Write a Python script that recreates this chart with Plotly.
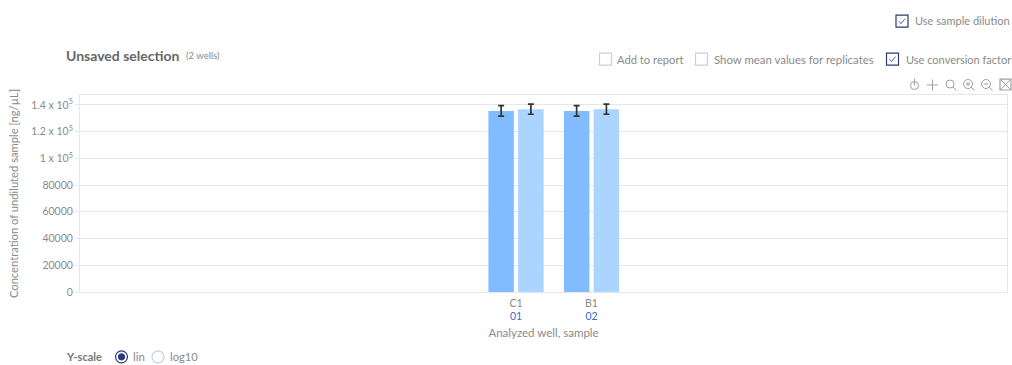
import plotly.graph_objects as go

categories = ["C1", "B1"]
samples = ["01", "02"]
series_a = [135500, 135500]
series_b = [136800, 136800]
err_a = [3900, 3900]
err_b = [3800, 3800]
y_ticks = [0, 20000, 40000, 60000, 80000, 100000, 120000, 140000]
y_labels = ["0", "20000", "40000", "60000", "80000", "1 x 10<sup>5</sup>", "1.2 x 10<sup>5</sup>", "1.4 x 10<sup>5</sup>"]
x_labels = [f'{c}<br><span style="color:#3a6cc8">{s}</span>' for c, s in zip(categories, samples)]

W, H = 1012, 365
L, R, T, B = 80, 1007, 95, 292.5
FONT = "Lato"
GREY = "#8a8a8a"
GRID = "#e6e6f2"
NAVY = "#2b3a78"
PALE = "#c3cfe8"


def fx(px):
    return (px - L) / (R - L)


def fy(py):
    return (B - py) / (B - T)


def text(px, py, s, size=11.5, color=GREY, anchor="left"):
    return dict(text=s, x=fx(px), y=fy(py), xref="paper", yref="paper", xanchor=anchor, yanchor="middle",
                showarrow=False, font=dict(size=size, color=color, family=FONT))


def box(x0, y0, size, color):
    return dict(type="rect", xref="paper", yref="paper", x0=fx(x0), x1=fx(x0 + size), y0=fy(y0), y1=fy(y0 + size),
                line=dict(color=color, width=1.2))


def line(x0, y0, x1, y1, color="#a0a0a0", width=1):
    return dict(type="line", xref="paper", yref="paper", x0=fx(x0), x1=fx(x1), y0=fy(y0), y1=fy(y1),
                line=dict(color=color, width=width))


def circ(cx, cy, r, color="#a0a0a0", width=1, fill=None):
    d = dict(type="circle", xref="paper", yref="paper", x0=fx(cx - r), x1=fx(cx + r), y0=fy(cy + r), y1=fy(cy - r),
             line=dict(color=color, width=width))
    if fill:
        d["fillcolor"] = fill
    return d


def check(x0, y0):
    return [line(x0 + 3, y0 + 6, x0 + 5, y0 + 8.5, NAVY, 0.8), line(x0 + 5, y0 + 8.5, x0 + 9, y0 + 3.5, NAVY, 0.8)]


shapes = []
shapes += [box(896, 15, 12, NAVY)] + check(896, 15)
shapes += [box(599.5, 53, 12, PALE), box(695.5, 53, 12, PALE), box(886.5, 53, 12, NAVY)] + check(886.5, 53)
# toolbar icons
shapes += [circ(914.5, 85.5, 4), line(914.5, 79, 914.5, 85.5)]
shapes += [line(927, 85, 938, 85), line(932.5, 79.5, 932.5, 90.5)]
shapes += [circ(950, 84, 4), line(953, 87, 956.5, 90.5)]
shapes += [circ(968, 84, 4.5), line(971, 87, 974.5, 90.5), line(966, 84, 970, 84), line(968, 82, 968, 86)]
shapes += [circ(986, 84, 4.5), line(989, 87, 992.5, 90.5), line(984, 84, 988, 84)]
shapes += [box(1000, 79, 11, "#a0a0a0"), line(1000, 79, 1011, 90), line(1011, 79, 1000, 90)]
# radios
shapes += [circ(121.5, 357.5, 6, NAVY, 1.2), circ(121.5, 357.5, 3.2, NAVY, 1, NAVY), circ(158, 357.5, 6, PALE, 1.2)]

annotations = [
    text(64, 55, "<b>Unsaved selection</b>", size=14, color="#666666"),
    text(184, 55, "(2 wells)", size=9.5),
    text(913, 20.5, "Use sample dilution", size=11),
    text(615, 59, "Add to report", size=11.2),
    text(711.5, 59, "Show mean values for replicates", size=11.4),
    text(903.5, 59, "Use conversion factor", size=11),
    text(64, 357.5, "<b>Y-scale</b>", color="#777777", size=11),
    text(131, 357.5, "lin"),
    text(168, 357.5, "log10", size=11.2),
]

fig = go.Figure()
for vals, errs, colr in ((series_a, err_a, "#80bcff"), (series_b, err_b, "#abd4ff")):
    fig.add_trace(go.Bar(
        x=[0, 1], y=vals, marker=dict(color=colr, line=dict(width=0)), showlegend=False,
        error_y=dict(type="data", array=errs, visible=True, color="#333333", thickness=1.7, width=3),
    ))

fig.update_layout(
    width=W, height=H, autosize=False, barmode="group", bargap=0.212, bargroupgap=0.143,
    margin=dict(l=L, r=W - R, t=T, b=H - B, pad=0),
    paper_bgcolor="white", plot_bgcolor="white",
    font=dict(family=FONT, size=10.5, color=GREY),
    shapes=shapes, annotations=annotations,
    xaxis=dict(
        range=[-5.775, 6.503], tickvals=[0, 1], ticktext=x_labels, ticks="outside", ticklen=1,
        tickcolor="rgba(0,0,0,0)", showgrid=False, zeroline=False,
        showline=True, mirror=True, linecolor=GRID, linewidth=1, tickfont=dict(size=10.5, color=GREY),
        title=dict(text="Analyzed well, sample", font=dict(size=11.5, color=GREY), standoff=7),
        automargin=False,
    ),
    yaxis=dict(
        range=[0, 147400], tickvals=y_ticks, ticktext=y_labels, ticks="outside", ticklen=4, tickcolor=GRID,
        gridcolor=GRID, gridwidth=1, zeroline=False, showline=True, mirror=True, linecolor=GRID, linewidth=1,
        tickfont=dict(size=10.5, color=GREY),
        title=dict(text="Concentration of undiluted sample [ng/µL]", font=dict(size=11.2, color=GREY), standoff=10),
        automargin=False,
    ),
)

fig.write_html("out.html", config=dict(displayModeBar=False),
               post_script="document.body.style.margin='0';document.body.style.overflow='hidden';")
